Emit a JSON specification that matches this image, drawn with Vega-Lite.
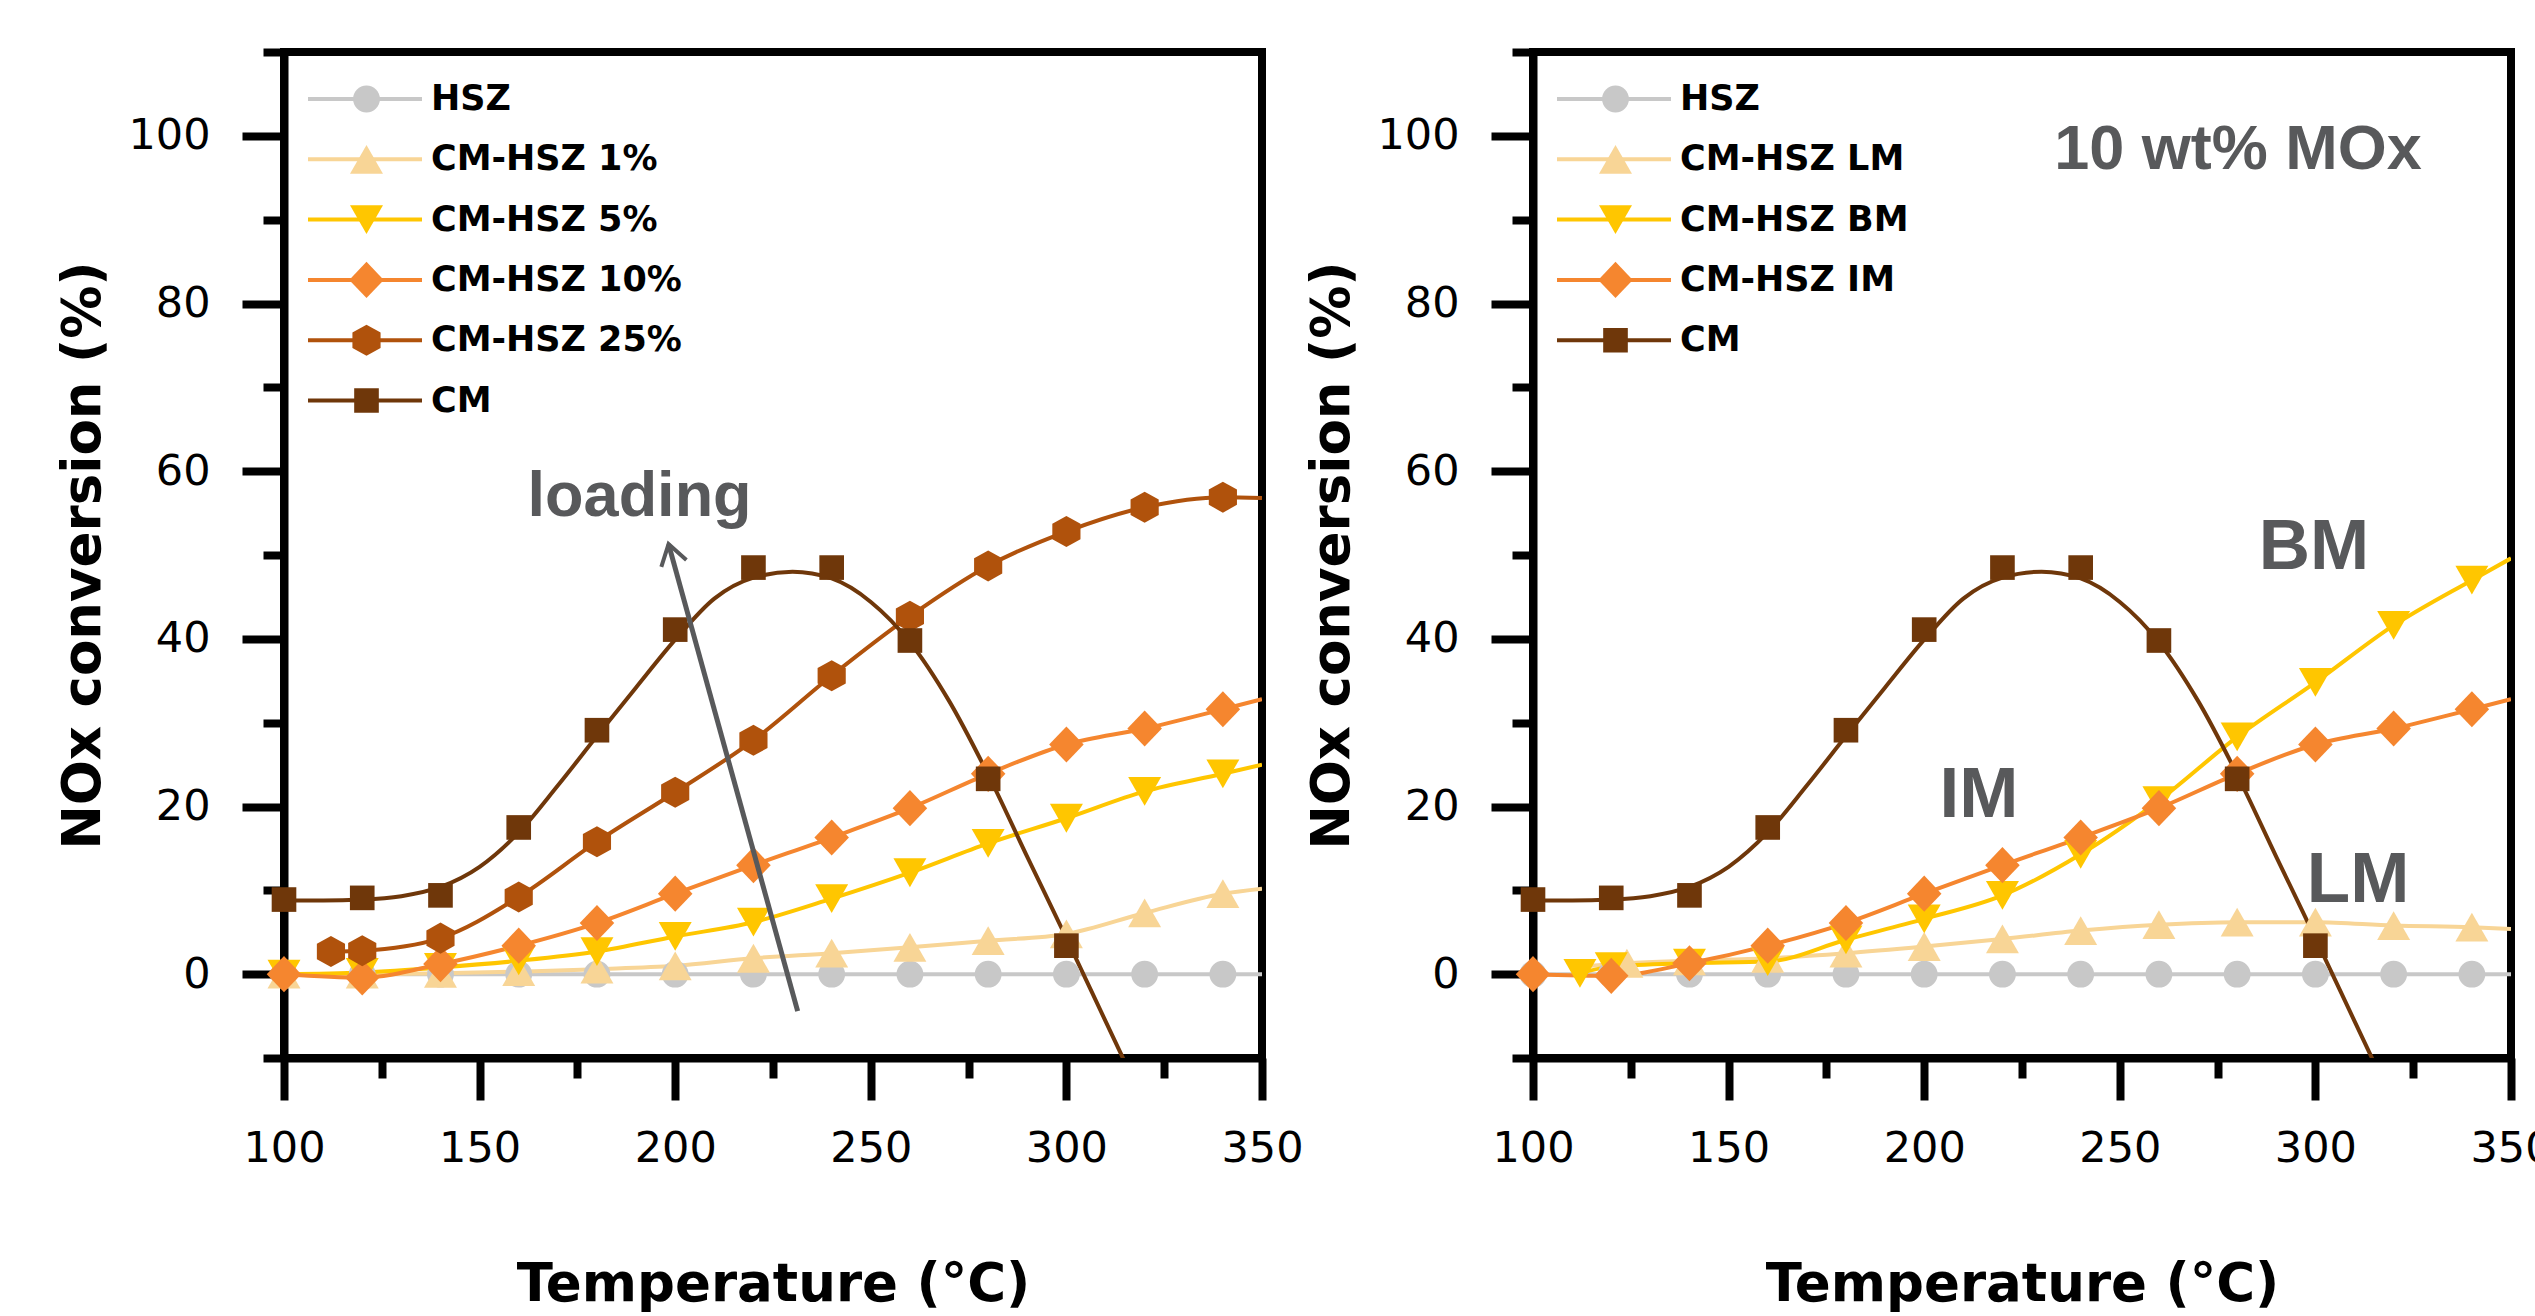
{
  "$schema": "https://vega.github.io/schema/vega-lite/v6.json",
  "background": "white",
  "padding": {"left": 53, "top": 27, "right": 0, "bottom": 0},
  "bounds": "flush",
  "spacing": 271,
  "config": {
    "view": {"stroke": "#000000", "strokeWidth": 8},
    "axis": {
      "domainColor": "#000000", "domainWidth": 8, "tickColor": "#000000", "tickWidth": 8,
      "labelFont": "DejaVu Sans", "labelFontSize": 43, "labelColor": "#000000",
      "titleFont": "DejaVu Sans", "titleFontSize": 53, "titleFontWeight": "bold", "titleColor": "#000000",
      "grid": false, "labelFlush": false, "labelOverlap": false, "labelBound": false, "zindex": 1
    }
  },
  "resolve": {"scale": {"stroke": "independent", "fill": "independent", "shape": "independent"}},
  "datasets": {
    "left": [
      {"s": "HSZ", "T": 100, "v": 0, "k": "b"}, {"s": "HSZ", "T": 120, "v": 0, "k": "b"}, {"s": "HSZ", "T": 140, "v": 0, "k": "b"}, {"s": "HSZ", "T": 160, "v": 0, "k": "b"}, {"s": "HSZ", "T": 180, "v": 0, "k": "b"}, {"s": "HSZ", "T": 200, "v": 0, "k": "b"}, {"s": "HSZ", "T": 220, "v": 0, "k": "b"}, {"s": "HSZ", "T": 240, "v": 0, "k": "b"}, {"s": "HSZ", "T": 260, "v": 0, "k": "b"}, {"s": "HSZ", "T": 280, "v": 0, "k": "b"}, {"s": "HSZ", "T": 300, "v": 0, "k": "b"}, {"s": "HSZ", "T": 320, "v": 0, "k": "b"}, {"s": "HSZ", "T": 340, "v": 0, "k": "b"}, {"s": "HSZ", "T": 350, "v": 0, "k": "fit"},
      {"s": "CM-HSZ 1%", "T": 100, "v": 0, "k": "b"}, {"s": "CM-HSZ 1%", "T": 120, "v": 0, "k": "b"}, {"s": "CM-HSZ 1%", "T": 140, "v": 0.1, "k": "b"}, {"s": "CM-HSZ 1%", "T": 160, "v": 0.3, "k": "b"}, {"s": "CM-HSZ 1%", "T": 180, "v": 0.6, "k": "b"}, {"s": "CM-HSZ 1%", "T": 200, "v": 1.0, "k": "b"}, {"s": "CM-HSZ 1%", "T": 220, "v": 1.9, "k": "b"}, {"s": "CM-HSZ 1%", "T": 240, "v": 2.5, "k": "b"}, {"s": "CM-HSZ 1%", "T": 260, "v": 3.2, "k": "b"}, {"s": "CM-HSZ 1%", "T": 280, "v": 4.0, "k": "b"}, {"s": "CM-HSZ 1%", "T": 300, "v": 4.8, "k": "b"}, {"s": "CM-HSZ 1%", "T": 320, "v": 7.3, "k": "b"}, {"s": "CM-HSZ 1%", "T": 340, "v": 9.6, "k": "b"}, {"s": "CM-HSZ 1%", "T": 350, "v": 10.2, "k": "fit"},
      {"s": "CM-HSZ 5%", "T": 100, "v": 0, "k": "b"}, {"s": "CM-HSZ 5%", "T": 120, "v": 0.2, "k": "b"}, {"s": "CM-HSZ 5%", "T": 140, "v": 0.8, "k": "b"}, {"s": "CM-HSZ 5%", "T": 160, "v": 1.6, "k": "b"}, {"s": "CM-HSZ 5%", "T": 180, "v": 2.7, "k": "b"}, {"s": "CM-HSZ 5%", "T": 200, "v": 4.5, "k": "b"}, {"s": "CM-HSZ 5%", "T": 220, "v": 6.2, "k": "b"}, {"s": "CM-HSZ 5%", "T": 240, "v": 9.0, "k": "b"}, {"s": "CM-HSZ 5%", "T": 260, "v": 12.1, "k": "b"}, {"s": "CM-HSZ 5%", "T": 280, "v": 15.6, "k": "b"}, {"s": "CM-HSZ 5%", "T": 300, "v": 18.6, "k": "b"}, {"s": "CM-HSZ 5%", "T": 320, "v": 21.8, "k": "b"}, {"s": "CM-HSZ 5%", "T": 340, "v": 23.9, "k": "b"}, {"s": "CM-HSZ 5%", "T": 350, "v": 25.0, "k": "fit"},
      {"s": "CM-HSZ 10%", "T": 100, "v": 0, "k": "b"}, {"s": "CM-HSZ 10%", "T": 120, "v": -0.4, "k": "b"}, {"s": "CM-HSZ 10%", "T": 140, "v": 1.2, "k": "b"}, {"s": "CM-HSZ 10%", "T": 160, "v": 3.4, "k": "b"}, {"s": "CM-HSZ 10%", "T": 180, "v": 6.1, "k": "b"}, {"s": "CM-HSZ 10%", "T": 200, "v": 9.6, "k": "b"}, {"s": "CM-HSZ 10%", "T": 220, "v": 13.0, "k": "b"}, {"s": "CM-HSZ 10%", "T": 240, "v": 16.3, "k": "b"}, {"s": "CM-HSZ 10%", "T": 260, "v": 19.8, "k": "b"}, {"s": "CM-HSZ 10%", "T": 280, "v": 23.9, "k": "b"}, {"s": "CM-HSZ 10%", "T": 300, "v": 27.4, "k": "b"}, {"s": "CM-HSZ 10%", "T": 320, "v": 29.3, "k": "b"}, {"s": "CM-HSZ 10%", "T": 340, "v": 31.6, "k": "b"}, {"s": "CM-HSZ 10%", "T": 350, "v": 32.8, "k": "fit"},
      {"s": "CM-HSZ 25%", "T": 112, "v": 2.7, "k": "b"}, {"s": "CM-HSZ 25%", "T": 120, "v": 2.8, "k": "b"}, {"s": "CM-HSZ 25%", "T": 140, "v": 4.3, "k": "b"}, {"s": "CM-HSZ 25%", "T": 160, "v": 9.2, "k": "b"}, {"s": "CM-HSZ 25%", "T": 180, "v": 15.8, "k": "b"}, {"s": "CM-HSZ 25%", "T": 200, "v": 21.7, "k": "b"}, {"s": "CM-HSZ 25%", "T": 220, "v": 27.9, "k": "b"}, {"s": "CM-HSZ 25%", "T": 240, "v": 35.6, "k": "b"}, {"s": "CM-HSZ 25%", "T": 260, "v": 42.7, "k": "b"}, {"s": "CM-HSZ 25%", "T": 280, "v": 48.7, "k": "b"}, {"s": "CM-HSZ 25%", "T": 300, "v": 52.8, "k": "b"}, {"s": "CM-HSZ 25%", "T": 320, "v": 55.7, "k": "b"}, {"s": "CM-HSZ 25%", "T": 340, "v": 56.9, "k": "b"}, {"s": "CM-HSZ 25%", "T": 350, "v": 56.8, "k": "fit"},
      {"s": "CM", "T": 100, "v": 8.9, "k": "pt"}, {"s": "CM", "T": 120, "v": 9.1, "k": "pt"}, {"s": "CM", "T": 140, "v": 9.4, "k": "pt"}, {"s": "CM", "T": 160, "v": 17.5, "k": "pt"}, {"s": "CM", "T": 180, "v": 29.1, "k": "pt"}, {"s": "CM", "T": 200, "v": 41.1, "k": "pt"}, {"s": "CM", "T": 220, "v": 48.5, "k": "pt"}, {"s": "CM", "T": 240, "v": 48.5, "k": "pt"}, {"s": "CM", "T": 260, "v": 39.8, "k": "pt"}, {"s": "CM", "T": 280, "v": 23.3, "k": "pt"}, {"s": "CM", "T": 300, "v": 3.4, "k": "pt"},
      {"s": "CM", "T": 100, "v": 8.8, "k": "fit"}, {"s": "CM", "T": 110, "v": 8.8, "k": "fit"}, {"s": "CM", "T": 120, "v": 8.9, "k": "fit"}, {"s": "CM", "T": 130, "v": 9.3, "k": "fit"}, {"s": "CM", "T": 140, "v": 10.4, "k": "fit"}, {"s": "CM", "T": 150, "v": 12.8, "k": "fit"}, {"s": "CM", "T": 160, "v": 16.9, "k": "fit"}, {"s": "CM", "T": 170, "v": 22.5, "k": "fit"}, {"s": "CM", "T": 180, "v": 28.4, "k": "fit"}, {"s": "CM", "T": 190, "v": 34.2, "k": "fit"}, {"s": "CM", "T": 200, "v": 39.9, "k": "fit"}, {"s": "CM", "T": 210, "v": 44.8, "k": "fit"}, {"s": "CM", "T": 220, "v": 47.3, "k": "fit"}, {"s": "CM", "T": 230, "v": 48.0, "k": "fit"}, {"s": "CM", "T": 240, "v": 47.2, "k": "fit"}, {"s": "CM", "T": 250, "v": 44.4, "k": "fit"}, {"s": "CM", "T": 260, "v": 39.6, "k": "fit"}, {"s": "CM", "T": 270, "v": 32.6, "k": "fit"}, {"s": "CM", "T": 280, "v": 23.8, "k": "fit"}, {"s": "CM", "T": 290, "v": 14.0, "k": "fit"}, {"s": "CM", "T": 300, "v": 4.3, "k": "fit"}, {"s": "CM", "T": 310, "v": -5.6, "k": "fit"}, {"s": "CM", "T": 320, "v": -15.5, "k": "fit"}
    ],
    "right": [
      {"s": "HSZ", "T": 100, "v": 0, "k": "b"}, {"s": "HSZ", "T": 120, "v": 0, "k": "b"}, {"s": "HSZ", "T": 140, "v": 0, "k": "b"}, {"s": "HSZ", "T": 160, "v": 0, "k": "b"}, {"s": "HSZ", "T": 180, "v": 0, "k": "b"}, {"s": "HSZ", "T": 200, "v": 0, "k": "b"}, {"s": "HSZ", "T": 220, "v": 0, "k": "b"}, {"s": "HSZ", "T": 240, "v": 0, "k": "b"}, {"s": "HSZ", "T": 260, "v": 0, "k": "b"}, {"s": "HSZ", "T": 280, "v": 0, "k": "b"}, {"s": "HSZ", "T": 300, "v": 0, "k": "b"}, {"s": "HSZ", "T": 320, "v": 0, "k": "b"}, {"s": "HSZ", "T": 340, "v": 0, "k": "b"}, {"s": "HSZ", "T": 350, "v": 0, "k": "fit"},
      {"s": "CM-HSZ LM", "T": 112, "v": 0.9, "k": "fit"}, {"s": "CM-HSZ LM", "T": 124, "v": 1.3, "k": "b"}, {"s": "CM-HSZ LM", "T": 140, "v": 1.6, "k": "b"}, {"s": "CM-HSZ LM", "T": 160, "v": 1.9, "k": "b"}, {"s": "CM-HSZ LM", "T": 180, "v": 2.5, "k": "b"}, {"s": "CM-HSZ LM", "T": 200, "v": 3.3, "k": "b"}, {"s": "CM-HSZ LM", "T": 220, "v": 4.2, "k": "b"}, {"s": "CM-HSZ LM", "T": 240, "v": 5.2, "k": "b"}, {"s": "CM-HSZ LM", "T": 260, "v": 5.9, "k": "b"}, {"s": "CM-HSZ LM", "T": 280, "v": 6.2, "k": "b"}, {"s": "CM-HSZ LM", "T": 300, "v": 6.2, "k": "b"}, {"s": "CM-HSZ LM", "T": 320, "v": 5.8, "k": "b"}, {"s": "CM-HSZ LM", "T": 340, "v": 5.6, "k": "b"}, {"s": "CM-HSZ LM", "T": 350, "v": 5.4, "k": "fit"},
      {"s": "CM-HSZ BM", "T": 112, "v": 0.1, "k": "b"}, {"s": "CM-HSZ BM", "T": 120, "v": 0.9, "k": "b"}, {"s": "CM-HSZ BM", "T": 140, "v": 1.3, "k": "b"}, {"s": "CM-HSZ BM", "T": 160, "v": 1.5, "k": "b"}, {"s": "CM-HSZ BM", "T": 180, "v": 4.1, "k": "b"}, {"s": "CM-HSZ BM", "T": 200, "v": 6.6, "k": "b"}, {"s": "CM-HSZ BM", "T": 220, "v": 9.4, "k": "b"}, {"s": "CM-HSZ BM", "T": 240, "v": 14.3, "k": "b"}, {"s": "CM-HSZ BM", "T": 260, "v": 20.7, "k": "b"}, {"s": "CM-HSZ BM", "T": 280, "v": 28.3, "k": "b"}, {"s": "CM-HSZ BM", "T": 300, "v": 34.8, "k": "b"}, {"s": "CM-HSZ BM", "T": 320, "v": 41.6, "k": "b"}, {"s": "CM-HSZ BM", "T": 340, "v": 47.0, "k": "b"}, {"s": "CM-HSZ BM", "T": 350, "v": 49.6, "k": "fit"},
      {"s": "CM-HSZ IM", "T": 100, "v": 0, "k": "b"}, {"s": "CM-HSZ IM", "T": 120, "v": -0.2, "k": "b"}, {"s": "CM-HSZ IM", "T": 140, "v": 1.3, "k": "b"}, {"s": "CM-HSZ IM", "T": 160, "v": 3.4, "k": "b"}, {"s": "CM-HSZ IM", "T": 180, "v": 6.1, "k": "b"}, {"s": "CM-HSZ IM", "T": 200, "v": 9.6, "k": "b"}, {"s": "CM-HSZ IM", "T": 220, "v": 13.0, "k": "b"}, {"s": "CM-HSZ IM", "T": 240, "v": 16.3, "k": "b"}, {"s": "CM-HSZ IM", "T": 260, "v": 19.8, "k": "b"}, {"s": "CM-HSZ IM", "T": 280, "v": 23.9, "k": "b"}, {"s": "CM-HSZ IM", "T": 300, "v": 27.4, "k": "b"}, {"s": "CM-HSZ IM", "T": 320, "v": 29.3, "k": "b"}, {"s": "CM-HSZ IM", "T": 340, "v": 31.6, "k": "b"}, {"s": "CM-HSZ IM", "T": 350, "v": 32.8, "k": "fit"},
      {"s": "CM", "T": 100, "v": 8.9, "k": "pt"}, {"s": "CM", "T": 120, "v": 9.1, "k": "pt"}, {"s": "CM", "T": 140, "v": 9.4, "k": "pt"}, {"s": "CM", "T": 160, "v": 17.5, "k": "pt"}, {"s": "CM", "T": 180, "v": 29.1, "k": "pt"}, {"s": "CM", "T": 200, "v": 41.1, "k": "pt"}, {"s": "CM", "T": 220, "v": 48.5, "k": "pt"}, {"s": "CM", "T": 240, "v": 48.5, "k": "pt"}, {"s": "CM", "T": 260, "v": 39.8, "k": "pt"}, {"s": "CM", "T": 280, "v": 23.3, "k": "pt"}, {"s": "CM", "T": 300, "v": 3.4, "k": "pt"},
      {"s": "CM", "T": 100, "v": 8.8, "k": "fit"}, {"s": "CM", "T": 110, "v": 8.8, "k": "fit"}, {"s": "CM", "T": 120, "v": 8.9, "k": "fit"}, {"s": "CM", "T": 130, "v": 9.3, "k": "fit"}, {"s": "CM", "T": 140, "v": 10.4, "k": "fit"}, {"s": "CM", "T": 150, "v": 12.8, "k": "fit"}, {"s": "CM", "T": 160, "v": 16.9, "k": "fit"}, {"s": "CM", "T": 170, "v": 22.5, "k": "fit"}, {"s": "CM", "T": 180, "v": 28.4, "k": "fit"}, {"s": "CM", "T": 190, "v": 34.2, "k": "fit"}, {"s": "CM", "T": 200, "v": 39.9, "k": "fit"}, {"s": "CM", "T": 210, "v": 44.8, "k": "fit"}, {"s": "CM", "T": 220, "v": 47.3, "k": "fit"}, {"s": "CM", "T": 230, "v": 48.0, "k": "fit"}, {"s": "CM", "T": 240, "v": 47.2, "k": "fit"}, {"s": "CM", "T": 250, "v": 44.4, "k": "fit"}, {"s": "CM", "T": 260, "v": 39.6, "k": "fit"}, {"s": "CM", "T": 270, "v": 32.6, "k": "fit"}, {"s": "CM", "T": 280, "v": 23.8, "k": "fit"}, {"s": "CM", "T": 290, "v": 14.0, "k": "fit"}, {"s": "CM", "T": 300, "v": 4.3, "k": "fit"}, {"s": "CM", "T": 310, "v": -5.6, "k": "fit"}, {"s": "CM", "T": 320, "v": -15.5, "k": "fit"}
    ],
    "leftText": [{"label": "loading", "T": 190.9, "v": 54.6}],
    "arrow": [{"T": 231.3, "v": -4.4, "T2": 198.3, "v2": 51.3}],
    "rightBig": [{"label": "BM", "T": 299.6, "v": 48.3}, {"label": "IM", "T": 214.0, "v": 18.8}, {"label": "LM", "T": 310.9, "v": 8.6}],
    "rightSmall": [{"label": "10 wt% MOx", "T": 280.2, "v": 96.0}]
  },
  "hconcat": [
    {
      "width": 978, "height": 1006,
      "encoding": {
        "x": {"field": "T", "type": "quantitative", "title": "Temperature (°C)",
          "scale": {"domain": [100, 350], "nice": false, "zero": false},
          "axis": {"values": [100, 125, 150, 175, 200, 225, 250, 275, 300, 325, 350],
            "tickSize": {"condition": {"test": "datum.value % 50 !== 0", "value": 20}, "value": 42},
            "labelExpr": "datum.value % 50 === 0 ? datum.label : ''", "labelPadding": 27, "titlePadding": 88}},
        "y": {"field": "v", "type": "quantitative", "title": "NOx conversion (%)",
          "scale": {"domain": [-10, 110], "nice": false, "zero": false},
          "axis": {"values": [-10, 0, 10, 20, 30, 40, 50, 60, 70, 80, 90, 100, 110],
            "tickSize": {"condition": {"test": "datum.value % 20 !== 0", "value": 21}, "value": 42},
            "labelExpr": "datum.value % 20 === 0 && datum.value >= 0 && datum.value <= 100 ? datum.label : ''", "labelPadding": 32, "titlePadding": 17}}
      },
      "layer": [
        {
          "data": {"name": "left"},
          "transform": [{"filter": "datum.k !== 'pt'"}],
          "mark": {"type": "line", "interpolate": "monotone", "strokeWidth": 4, "clip": true},
          "encoding": {
            "stroke": {"field": "s", "type": "nominal",
              "sort": ["HSZ", "CM-HSZ 1%", "CM-HSZ 5%", "CM-HSZ 10%", "CM-HSZ 25%", "CM"],
              "scale": {"range": ["#c8c8c8", "#f8d596", "#ffc600", "#f5862f", "#b0520c", "#6f370a"]},
              "legend": {"orient": "none", "legendX": 22, "legendY": 27, "title": null, "padding": 0, "symbolType": "stroke", "symbolSize": 12996, "symbolStrokeWidth": 4, "symbolOffset": 0, "clipHeight": 40, "rowPadding": 20.3, "labelExpr": "''", "labelFontSize": 35}}
          }
        },
        {
          "data": {"name": "left"},
          "transform": [{"filter": "datum.k !== 'fit'"}],
          "mark": {"type": "point", "filled": true, "opacity": 1, "size": 1024, "strokeWidth": 0},
          "encoding": {
            "fill": {"field": "s", "type": "nominal",
              "scale": {"domain": ["HSZ", "CM-HSZ 1%", "CM-HSZ 5%", "CM-HSZ 10%", "CM-HSZ 25%", "CM"], "range": ["#c8c8c8", "#f8d596", "#ffc600", "#f5862f", "#b0520c", "#6f370a"]},
              "legend": {"orient": "none", "legendX": 22, "legendY": 27, "title": null, "padding": 0, "symbolSize": 1024, "symbolStrokeWidth": 0, "symbolOffset": 43, "labelOffset": 47, "clipHeight": 40, "rowPadding": 20.3, "labelFont": "DejaVu Sans", "labelFontSize": 35, "labelFontWeight": "bold", "labelColor": "#000000", "labelLimit": 1000}},
            "shape": {"field": "s", "type": "nominal",
              "scale": {"domain": ["HSZ", "CM-HSZ 1%", "CM-HSZ 5%", "CM-HSZ 10%", "CM-HSZ 25%", "CM"],
                "range": ["M0.84,0A0.84,0.84,0,1,1,-0.84,0A0.84,0.84,0,1,1,0.84,0Z", "M0,-0.9L1.03,0.9L-1.03,0.9Z", "M0,0.9L1.03,-0.9L-1.03,-0.9Z", "M0,-1.13L1.08,0L0,1.13L-1.08,0Z", "M0,-0.97L0.88,-0.48L0.88,0.48L0,0.97L-0.88,0.48L-0.88,-0.48Z", "M-0.77,-0.77L0.77,-0.77L0.77,0.77L-0.77,0.77Z"]},
              "legend": {"orient": "none", "legendX": 22, "legendY": 27, "title": null, "padding": 0, "symbolSize": 1024, "symbolStrokeWidth": 0, "symbolOffset": 43, "labelOffset": 47, "clipHeight": 40, "rowPadding": 20.3, "labelFont": "DejaVu Sans", "labelFontSize": 35, "labelFontWeight": "bold", "labelColor": "#000000", "labelLimit": 1000}}
          }
        },
        {
          "data": {"name": "arrow"},
          "mark": {"type": "rule", "stroke": "#58595b", "strokeWidth": 5},
          "encoding": {"x2": {"field": "T2"}, "y2": {"field": "v2"}}
        },
        {
          "data": {"name": "arrow"},
          "mark": {"type": "point", "shape": "M-0.65,1L0,0L0.65,1", "filled": false, "stroke": "#58595b", "strokeWidth": 4, "size": 1600, "angle": 344.6, "opacity": 1},
          "encoding": {"x": {"field": "T2", "type": "quantitative"}, "y": {"field": "v2", "type": "quantitative"}}
        },
        {
          "data": {"name": "leftText"},
          "mark": {"type": "text", "font": "Liberation Sans", "fontWeight": "bold", "fontSize": 63, "color": "#58595b", "align": "center", "baseline": "alphabetic"},
          "encoding": {"text": {"field": "label"}}
        }
      ]
    },
    {
      "width": 978, "height": 1006,
      "encoding": {
        "x": {"field": "T", "type": "quantitative", "title": "Temperature (°C)",
          "scale": {"domain": [100, 350], "nice": false, "zero": false},
          "axis": {"values": [100, 125, 150, 175, 200, 225, 250, 275, 300, 325, 350],
            "tickSize": {"condition": {"test": "datum.value % 50 !== 0", "value": 20}, "value": 42},
            "labelExpr": "datum.value % 50 === 0 ? datum.label : ''", "labelPadding": 27, "titlePadding": 88}},
        "y": {"field": "v", "type": "quantitative", "title": "NOx conversion (%)",
          "scale": {"domain": [-10, 110], "nice": false, "zero": false},
          "axis": {"values": [-10, 0, 10, 20, 30, 40, 50, 60, 70, 80, 90, 100, 110],
            "tickSize": {"condition": {"test": "datum.value % 20 !== 0", "value": 21}, "value": 42},
            "labelExpr": "datum.value % 20 === 0 && datum.value >= 0 && datum.value <= 100 ? datum.label : ''", "labelPadding": 32, "titlePadding": 17}}
      },
      "layer": [
        {
          "data": {"name": "right"},
          "transform": [{"filter": "datum.k !== 'pt'"}],
          "mark": {"type": "line", "interpolate": "monotone", "strokeWidth": 4, "clip": true},
          "encoding": {
            "stroke": {"field": "s", "type": "nominal",
              "sort": ["HSZ", "CM-HSZ LM", "CM-HSZ BM", "CM-HSZ IM", "CM"],
              "scale": {"range": ["#c8c8c8", "#f8d596", "#ffc600", "#f5862f", "#6f370a"]},
              "legend": {"orient": "none", "legendX": 22, "legendY": 27, "title": null, "padding": 0, "symbolType": "stroke", "symbolSize": 12996, "symbolStrokeWidth": 4, "symbolOffset": 0, "clipHeight": 40, "rowPadding": 20.3, "labelExpr": "''", "labelFontSize": 35}}
          }
        },
        {
          "data": {"name": "right"},
          "transform": [{"filter": "datum.k !== 'fit'"}],
          "mark": {"type": "point", "filled": true, "opacity": 1, "size": 1024, "strokeWidth": 0},
          "encoding": {
            "fill": {"field": "s", "type": "nominal",
              "scale": {"domain": ["HSZ", "CM-HSZ LM", "CM-HSZ BM", "CM-HSZ IM", "CM"], "range": ["#c8c8c8", "#f8d596", "#ffc600", "#f5862f", "#6f370a"]},
              "legend": {"orient": "none", "legendX": 22, "legendY": 27, "title": null, "padding": 0, "symbolSize": 1024, "symbolStrokeWidth": 0, "symbolOffset": 43, "labelOffset": 47, "clipHeight": 40, "rowPadding": 20.3, "labelFont": "DejaVu Sans", "labelFontSize": 35, "labelFontWeight": "bold", "labelColor": "#000000", "labelLimit": 1000}},
            "shape": {"field": "s", "type": "nominal",
              "scale": {"domain": ["HSZ", "CM-HSZ LM", "CM-HSZ BM", "CM-HSZ IM", "CM"],
                "range": ["M0.84,0A0.84,0.84,0,1,1,-0.84,0A0.84,0.84,0,1,1,0.84,0Z", "M0,-0.9L1.03,0.9L-1.03,0.9Z", "M0,0.9L1.03,-0.9L-1.03,-0.9Z", "M0,-1.13L1.08,0L0,1.13L-1.08,0Z", "M-0.77,-0.77L0.77,-0.77L0.77,0.77L-0.77,0.77Z"]},
              "legend": {"orient": "none", "legendX": 22, "legendY": 27, "title": null, "padding": 0, "symbolSize": 1024, "symbolStrokeWidth": 0, "symbolOffset": 43, "labelOffset": 47, "clipHeight": 40, "rowPadding": 20.3, "labelFont": "DejaVu Sans", "labelFontSize": 35, "labelFontWeight": "bold", "labelColor": "#000000", "labelLimit": 1000}}
          }
        },
        {
          "data": {"name": "rightBig"},
          "mark": {"type": "text", "font": "Liberation Sans", "fontWeight": "bold", "fontSize": 71, "color": "#58595b", "align": "center", "baseline": "alphabetic"},
          "encoding": {"text": {"field": "label"}}
        },
        {
          "data": {"name": "rightSmall"},
          "mark": {"type": "text", "font": "Liberation Sans", "fontWeight": "bold", "fontSize": 63, "color": "#58595b", "align": "center", "baseline": "alphabetic"},
          "encoding": {"text": {"field": "label"}}
        }
      ]
    }
  ]
}
